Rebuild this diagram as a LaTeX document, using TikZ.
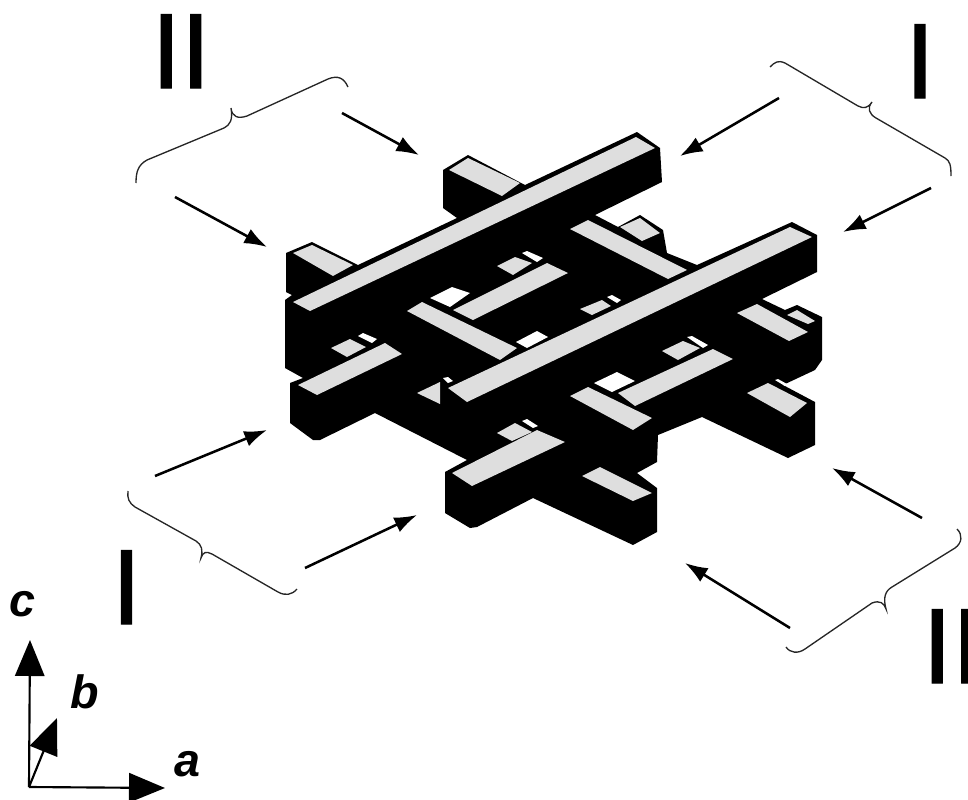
\documentclass[tikz,border=0pt]{standalone}
\usepackage{fontspec}
\usepackage{xcolor}
\usepackage{tikz}
\usetikzlibrary{arrows.meta}
\setmainfont{Liberation Sans}
\newfontfamily\setlabelfont[FakeBold=1.2]{Liberation Sans}
\definecolor{barlight}{HTML}{DEDEDE}
\definecolor{barshade}{HTML}{000000}
\tikzset{
  ptr/.style={-{Latex[length=17pt,width=12pt]},line width=1.9pt,black},
  axisline/.style={-{Triangle[length=27pt,width=22pt]},line width=1.6pt,black},
  brc/.style={line width=1pt,black!85},
  setlabel/.style={anchor=base,inner sep=0pt,font=\setlabelfont\fontsize{80}{80}\selectfont},
  axislabel/.style={inner sep=0pt,font=\fontsize{35}{35}\selectfont\bfseries\itshape},
}

\begin{document}
\begin{tikzpicture}[x=.75pt,y=-.75pt]
      \useasboundingbox (0,0) rectangle (968,800);
      \fill[barshade](286,253)--(312,242)--(358,265)--(457,218)--(443,208)--(443,170)--(468,155)--(525,185)--(637,132)--(660,148)--(662,182)--(595,215)--(618,227)--(640,215)--(663,230)--(667,253)--(697,265)--(792,222)--(817,235)--(817,272)--(762,299)--(785,310)--(797,305)--(822,317)--(822,360)--(815,370)--(783,385)--(815,402)--(815,445)--(788,458)--(702,417)--(658,435)--(657,462)--(637,473)--(657,488)--(657,532)--(633,545)--(533,498)--(477,527)--(470,528)--(445,513)--(445,472)--(467,460)--(375,413)--(320,440)--(313,440)--(290,423)--(290,383)--(303,378)--(285,368)--(285,300)--(292,295)--(286,292)--cycle;
      \fill[barlight](449,170)--(468,158)--(520,183)--(502,196)--cycle; \fill[barlight](293,253)--(312,245)--(353,265)--(333,276)--cycle;
      \fill[barlight](293,302)--(310,311)--(655,148)--(636,137)--cycle; \fill[barlight](448,388)--(467,402)--(812,237)--(790,227)--cycle;
      \fill[barlight](407,311)--(422,302)--(517,348)--(500,360)--cycle; \fill[barlight](453,310)--(547,263)--(568,273)--(473,320)--cycle;
      \fill[barlight](497,266)--(515,257)--(532,263)--(513,275)--cycle; \fill[barlight](331,348)--(350,339)--(366,347)--(347,357)--cycle;
      \fill[barlight](298,385)--(317,395)--(402,354)--(385,343)--cycle; \fill[barlight](417,393)--(440,382)--(440,404)--cycle;
      \fill[barlight](452,473)--(537,430)--(565,442)--(472,486)--cycle; \fill[barlight](497,433)--(515,423)--(532,432)--(512,441)--cycle;
      \fill[barlight](570,229)--(588,220)--(687,270)--(668,279)--cycle; \fill[barlight](620,227)--(640,218)--(660,233)--(642,241)--cycle;
      \fill[barlight](580,309)--(602,300)--(611,306)--(592,315)--cycle; \fill[barlight](737,313)--(757,304)--(808,332)--(789,341)--cycle;
      \fill[barlight](787,315)--(797,310)--(815,321)--(808,324)--cycle; \fill[barlight](662,351)--(683,341)--(700,348)--(678,360)--cycle;
      \fill[barlight](618,393)--(713,349)--(733,359)--(635,406)--cycle; \fill[barlight](570,396)--(588,387)--(652,418)--(633,430)--cycle;
      \fill[barlight](747,393)--(768,383)--(807,403)--(790,417)--cycle; \fill[barlight](582,476)--(600,467)--(652,493)--(633,501)--cycle;
      \fill[white](430,298)--(452,287)--(470,293)--(450,307)--cycle; \fill[white](516,342)--(537,331)--(548,337)--(527,348)--cycle;
      \fill[white](594,383)--(617,372)--(635,381)--(612,392)--cycle; \fill[white](443,378)--(448,377)--(453,381)--(448,383)--cycle;
      \fill[white](522,253)--(527,251)--(543,258)--(537,262)--cycle; \fill[white](358,336)--(363,333)--(377,339)--(372,343)--cycle;
      \fill[white](522,421)--(527,419)--(538,426)--(533,428)--cycle; \fill[white](607,297)--(612,295)--(621,300)--(617,303)--cycle;
      \fill[white](687,337)--(692,336)--(708,345)--(703,348)--cycle; \fill[white](775,380)--(778,379)--(787,384)--(785,386)--cycle;
      \draw[brc](770,67) .. controls (775,62) and (778,60) .. (785,63)--(858,106) .. controls (864,109) and (868,108) .. (872,102) .. controls (867,108) and (869,114) .. (876,118)--(945,158) .. controls (950,161) and (951,165) .. (951,176);
      \draw[brc](136,183) .. controls (136,172) and (138,165) .. (147,160)--(224,128) .. controls (230,125) and (233,120) .. (231,108) .. controls (232,117) and (238,119) .. (247,116)--(328,79) .. controls (338,75) and (344,78) .. (348,87);
      \draw[brc](128,491) .. controls (127,498) and (129,503) .. (135,507)--(196,541) .. controls (202,545) and (203,550) .. (201,558) .. controls (203,552) and (206,551) .. (212,554)--(278,592) .. controls (285,596) and (292,595) .. (297,589);
      \draw[brc](957,529) .. controls (963,535) and (962,543) .. (955,548)--(892,587) .. controls (885,591) and (883,598) .. (886,609) .. controls (884,603) and (880,600) .. (872,603)--(805,649) .. controls (798,654) and (790,653) .. (786,647);
      \coordinate (trA) at (779,98); \coordinate (trAend) at (680,156); \draw[ptr](trA)--(trAend);
      \coordinate (trB) at (931,188); \coordinate (trBend) at (843,232); \draw[ptr](trB)--(trBend);
      \coordinate (tlA) at (342,113); \coordinate (tlAend) at (419,155); \draw[ptr](tlA)--(tlAend);
      \coordinate (tlB) at (175,197); \coordinate (tlBend) at (267,247); \draw[ptr](tlB)--(tlBend);
      \coordinate (blA) at (155,476); \coordinate (blAend) at (267,430); \draw[ptr](blA)--(blAend);
      \coordinate (blB) at (305,568); \coordinate (blBend) at (417,515); \draw[ptr](blB)--(blBend);
      \coordinate (brA) at (922,518); \coordinate (brAend) at (832,468); \draw[ptr](brA)--(brAend);
      \coordinate (brB) at (790,628); \coordinate (brBend) at (685,563); \draw[ptr](brB)--(brBend);
      \node[setlabel] (setItop) at (920,98) {I}; \node[setlabel] (setIItop) at (181,88) {II};
      \node[setlabel] (setIlow) at (126.5,624) {I}; \node[setlabel] (setIIlow) at (952,683) {II};
      \coordinate (orig) at (29,787); \coordinate (tipa) at (165,788); \coordinate (tipb) at (57,718); \coordinate (tipc) at (30,640);
      \draw[axisline](orig)--(tipc); \draw[axisline](orig)--(tipa); \draw[axisline](orig)--(tipb);
      \node[axislabel] (labc) at (22,604) {c}; \node[axislabel] (labb) at (85,692) {b}; \node[axislabel] (laba) at (187,764) {a};
    \end{tikzpicture}
\end{document}
